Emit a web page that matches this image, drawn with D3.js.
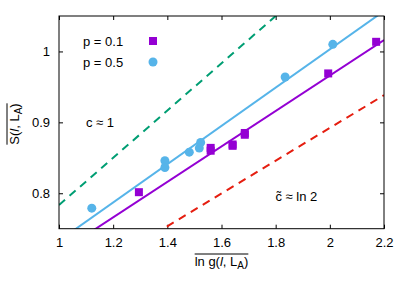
<!DOCTYPE html>
<html>
<head>
<meta charset="utf-8">
<script src="https://cdn.jsdelivr.net/npm/d3@7"></script>
<style>
  body { margin: 0; background: #fff; }
  text { font-family: "Liberation Sans", Arial, sans-serif; font-size: 13px; fill: #000; }
</style>
</head>
<body>
<div id="chart"></div>
<script>
// data
let p01x = [1.295, 1.560, 1.560, 1.641, 1.641, 1.686, 1.686, 1.994, 2.171];
let p01y = [0.8015, 0.864, 0.860, 0.8688, 0.8669, 0.885, 0.8825, 0.969, 1.0136];
let p05x = [1.121, 1.391, 1.391, 1.481, 1.518, 1.523, 1.835, 2.011];
let p05y = [0.779, 0.8458, 0.8363, 0.858, 0.8637, 0.8716, 0.964, 1.010];

// fit / reference lines: y = slope * x + intercept
let lineNames = ["fit01", "fit05", "c1", "cln2"];
let lineSlopes = [0.25, 0.27, 1 / 3, Math.LN2 / 3];
let lineIntercepts = [0.466, 0.463, 0.450, 0.430];

let xTicks = [1, 1.2, 1.4, 1.6, 1.8, 2, 2.2];
let xTickLabels = ["1", "1.2", "1.4", "1.6", "1.8", "2", "2.2"];
let yTicks = [0.8, 0.9, 1.0];
let yTickLabels = ["0.8", "0.9", "1"];

let W = 409, H = 286;
let margin = {top: 16, right: 25, bottom: 57.3, left: 59};
let pw = W - margin.left - margin.right;
let ph = H - margin.top - margin.bottom;

let svg = d3.select("#chart").append("svg")
    .attr("width", W)
    .attr("height", H);

let xScale = d3.scaleLinear().domain([1, 2.2]).range([margin.left, margin.left + pw]);
let yScale = d3.scaleLinear().domain([0.75, 1.05]).range([margin.top + ph, margin.top]);

svg.append("clipPath").attr("id", "plotclip")
    .append("rect")
    .attr("x", margin.left).attr("y", margin.top)
    .attr("width", pw).attr("height", ph);

// axes, ticks pointing inward on all four sides
let xfmt = d => xTickLabels[xTicks.indexOf(d)];
let yfmt = d => yTickLabels[yTicks.indexOf(d)];

let gx = svg.append("g")
    .attr("transform", "translate(0," + (margin.top + ph) + ")")
    .call(d3.axisBottom(xScale).tickValues(xTicks).tickFormat(xfmt).tickSize(-4).tickSizeOuter(0).tickPadding(9));
let gxt = svg.append("g")
    .attr("transform", "translate(0," + margin.top + ")")
    .call(d3.axisTop(xScale).tickValues(xTicks).tickFormat("").tickSize(-4).tickSizeOuter(0));
let gy = svg.append("g")
    .attr("transform", "translate(" + margin.left + ",0)")
    .call(d3.axisLeft(yScale).tickValues(yTicks).tickFormat(yfmt).tickSize(-4).tickSizeOuter(0).tickPadding(9));
let gyr = svg.append("g")
    .attr("transform", "translate(" + (margin.left + pw) + ",0)")
    .call(d3.axisRight(yScale).tickValues(yTicks).tickFormat("").tickSize(-4).tickSizeOuter(0));

[gx, gxt, gy, gyr].forEach(function (g) {
    g.select(".domain").remove();
    g.selectAll("line").attr("stroke", "#000").attr("stroke-width", 1);
    g.selectAll("text").attr("font-size", 13).attr("font-family", "Liberation Sans, Arial, sans-serif").attr("fill", "#000");
});

// lines
let lineColors = {fit01: "#9400d3", fit05: "#56b4e9", c1: "#009e73", cln2: "#e51e10"};
let lineDash = {fit01: null, fit05: null, c1: "8,6", cln2: "8,6"};
let lineData = lineNames.map((n, i) => ({name: n, slope: lineSlopes[i], b: lineIntercepts[i]}));

let plot = svg.append("g").attr("clip-path", "url(#plotclip)");

plot.selectAll("line.ref").data(lineData).enter().append("line")
    .attr("class", "ref")
    .attr("x1", xScale(1))
    .attr("y1", d => yScale(d.slope * 1 + d.b))
    .attr("x2", xScale(2.2))
    .attr("y2", d => yScale(d.slope * 2.2 + d.b))
    .attr("stroke", d => lineColors[d.name])
    .attr("stroke-width", 2)
    .attr("stroke-dasharray", d => lineDash[d.name]);

// points
let pts01 = p01x.map((x, i) => ({x: x, y: p01y[i]}));
let pts05 = p05x.map((x, i) => ({x: x, y: p05y[i]}));

plot.selectAll("circle.p05").data(pts05).enter().append("circle")
    .attr("class", "p05")
    .attr("cx", d => xScale(d.x))
    .attr("cy", d => yScale(d.y))
    .attr("r", 4.5)
    .attr("fill", "#56b4e9");

plot.selectAll("rect.p01").data(pts01).enter().append("rect")
    .attr("class", "p01")
    .attr("x", d => xScale(d.x) - 4)
    .attr("y", d => yScale(d.y) - 4)
    .attr("width", 8)
    .attr("height", 8)
    .attr("fill", "#9400d3");

// frame
svg.append("rect")
    .attr("x", margin.left).attr("y", margin.top)
    .attr("width", pw).attr("height", ph)
    .attr("fill", "none").attr("stroke", "#000").attr("stroke-width", 1);

// legend
let legendLabels = ["p = 0.1", "p = 0.5"];
let legendY = [41, 62];
svg.selectAll("text.leg").data(legendLabels).enter().append("text")
    .attr("class", "leg")
    .attr("x", 83)
    .attr("y", (d, i) => legendY[i] + 4.5)
    .text(d => d);
svg.append("rect").attr("x", 149).attr("y", legendY[0] - 4).attr("width", 8).attr("height", 8).attr("fill", "#9400d3");
svg.append("circle").attr("cx", 153).attr("cy", legendY[1]).attr("r", 4.5).attr("fill", "#56b4e9");

// annotations
svg.append("text").attr("x", 86).attr("y", 127).text("c \u2248 1");
svg.append("text").attr("x", 275.5).attr("y", 200.5).text("c\u0303 \u2248 ln 2");

// x axis label with overline
let xl = svg.append("text")
    .attr("x", margin.left + pw / 2)
    .attr("y", 266)
    .attr("text-anchor", "middle");
xl.append("tspan").text("ln g(");
xl.append("tspan").attr("font-style", "italic").text("l");
xl.append("tspan").text(", L");
xl.append("tspan").attr("font-size", 10).attr("dy", 3).text("A");
xl.append("tspan").attr("dy", -3).text(")");
let xb = xl.node().getBBox();
svg.append("line")
    .attr("x1", xb.x).attr("x2", xb.x + xb.width)
    .attr("y1", xb.y).attr("y2", xb.y)
    .attr("stroke", "#000").attr("stroke-width", 1);

// y axis label with overline
let yg = svg.append("g").attr("transform", "translate(19," + 124 + ") rotate(-90)");
let yl = yg.append("text").attr("x", 0).attr("y", 0).attr("text-anchor", "middle");
yl.append("tspan").text("S(");
yl.append("tspan").attr("font-style", "italic").text("l");
yl.append("tspan").text(", L");
yl.append("tspan").attr("font-size", 10).attr("dy", 3).text("A");
yl.append("tspan").attr("dy", -3).text(")");
let yb = yl.node().getBBox();
yg.append("line")
    .attr("x1", yb.x).attr("x2", yb.x + yb.width)
    .attr("y1", yb.y).attr("y2", yb.y)
    .attr("stroke", "#000").attr("stroke-width", 1);
</script>
</body>
</html>
